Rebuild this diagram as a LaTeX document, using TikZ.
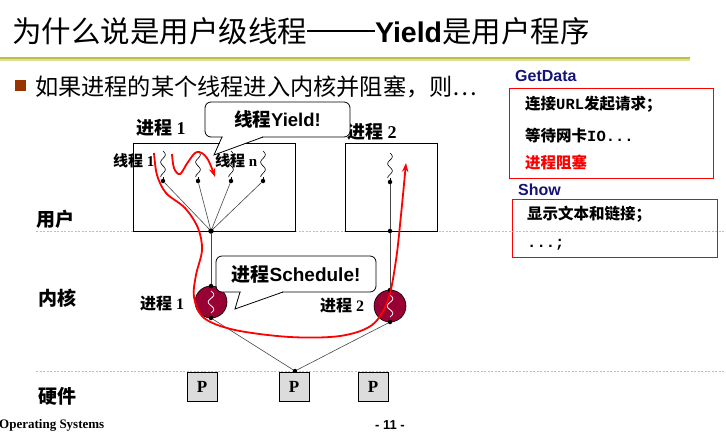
\documentclass[tikz,border=0pt]{standalone}
\usepackage{fontspec}
\setmainfont{Liberation Serif}
\newfontfamily\cjk{Noto Sans CJK SC}
\newfontfamily\arialf{Liberation Sans}
\newfontfamily\monof{Liberation Mono}
\usetikzlibrary{arrows.meta}
\definecolor{titleline}{RGB}{192,192,64}
\definecolor{titlelinelt}{RGB}{222,222,150}
\definecolor{bulletc}{RGB}{153,51,0}
\definecolor{navyc}{RGB}{20,20,120}
\definecolor{kred}{RGB}{153,0,51}
\definecolor{lgray}{RGB}{70,70,70}
\definecolor{bgray}{RGB}{190,190,190}
\definecolor{pgray}{RGB}{220,220,220}
\newcommand\fs[1]{\fontsize{#1}{#1}\selectfont}
\newcommand\squig[3]{\draw[line width=0.6pt] plot[domain=0:1,samples=40,smooth,variable=\t] ({#1+2.3*sin(\t*630)},{#2+(#3-#2)*\t});}
\newcommand\ksquig[2]{\draw[white,line width=0.8pt] plot[domain=0:1,samples=30,smooth,variable=\t] ({#1+2.8*sin(\t*540)},{#2-11+22*\t});}
\tikzset{
  lbl/.style={inner sep=0, anchor=west},
  dot/.style={circle, fill=black, inner sep=0, minimum size=4.5pt},
  gline/.style={draw=lgray, line width=0.6pt},
  procbox/.style={draw=black, line width=0.8pt, fill=none, inner sep=0},
  bound/.style={draw=bgray, line width=0.7pt, dash pattern=on 2pt off 1.5pt},
  kcirc/.style={circle, fill=kred, draw=black, line width=0.6pt, minimum size=32pt, inner sep=0},
  pbox/.style={draw=black, fill=pgray, line width=0.6pt, minimum width=30pt, minimum height=29pt, inner sep=0, font=\fs{17}\bfseries},
  callout/.style={draw=black, fill=white, rounded corners=6pt, line width=0.8pt, inner sep=0},
  redbox/.style={draw=red, line width=1pt, inner sep=0},
  redpath/.style={red, line width=1.8pt, -{Stealth[length=9pt,width=6.5pt]}},
}
\begin{document}
\begin{tikzpicture}[x=1pt,y=-1pt]
\useasboundingbox (0,0) rectangle (726,440);

% title
\node[lbl] (title) at (12,31) {\fs{29.5}{\cjk 为什么说是用户级线程}\rule[0.33em]{2.3em}{2.6pt}{\fs{28.5}\arialf\bfseries Yield}{\cjk 是用户程序}};
\fill[titleline] (0,56.5) rectangle (690,59);
\fill[titlelinelt] (0,59) rectangle (690,60.5);

% bullet
\fill[bulletc] (15,80) rectangle (26,91);
\node[lbl] (bullet) at (35,87) {\fs{23.2}\cjk 如果进程的某个线程进入内核并阻塞，则…};

% right code boxes
\node[lbl] (getdata) at (515,76) {\fs{16}\arialf\bfseries\color{navyc} GetData};
\node[redbox, minimum width=204pt, minimum height=90pt] (box1) at (611,133) {};
\node[lbl] (l1) at (525,104) {\fs{15.5}\bfseries{\cjk 连接}{\monof URL}{\cjk 发起请求；}};
\node[lbl] (l2) at (525,136) {\fs{15.5}\bfseries{\cjk 等待网卡}{\monof IO...}};
\node[lbl] (l3) at (525,163) {\fs{15.5}\bfseries\color{red}{\cjk 进程阻塞}};
\node[lbl] (show) at (518,190) {\fs{16}\arialf\bfseries\color{navyc} Show};
\node[redbox, minimum width=205pt, minimum height=58pt] (box2) at (614.5,228) {};
\node[lbl] (l4) at (527,214) {\fs{15.5}\bfseries{\cjk 显示文本和链接；}};
\node[lbl] (l5) at (527,245) {\fs{15.5}\bfseries{\monof ...;}};

% layer labels and boundaries
\node[lbl] (user) at (36,219) {\fs{19}\cjk\bfseries 用户};
\node[lbl] (kernel) at (38,298) {\fs{19}\cjk\bfseries 内核};
\node[lbl] (hwl) at (38,396) {\fs{19}\cjk\bfseries 硬件};
\draw[bound] (36,231.5) -- (726,231.5);
\draw[bound] (36,371) -- (726,371);

% process boxes
\node[procbox, minimum width=162pt, minimum height=88pt] (p1) at (214,187) {};
\node[procbox, minimum width=92pt, minimum height=88pt] (p2) at (391,187) {};
\node[lbl] (p1l) at (136,128) {\fs{18}\bfseries{\cjk 进程} 1};
\node[lbl] (p2l) at (347,132) {\fs{18}\bfseries{\cjk 进程} 2};
\node[lbl] (th1) at (113,161) {\fs{15}\bfseries{\cjk 线程} 1};
\node[lbl] (thn) at (215,161) {\fs{15}\bfseries{\cjk 线程} n};

% thread dots and hubs
\node[dot] (t1) at (163,181) {};
\node[dot] (t2) at (198,181) {};
\node[dot] (t3) at (231,181) {};
\node[dot] (t4) at (263,181) {};
\node[dot] (t5) at (390,182) {};
\node[dot, minimum size=5.5pt] (hub1) at (211,231) {};
\node[dot] (hub2) at (390,231) {};
\squig{163}{151}{177}
\squig{198}{151}{177}
\squig{231}{151}{177}
\squig{263}{151}{177}
\squig{390}{153}{178}
\draw[line width=0.6pt] (163,177) -- (t1) (198,177) -- (t2) (231,177) -- (t3) (263,177) -- (t4) (390,178) -- (t5);
\foreach \t in {t1,t2,t3,t4} \draw[gline] (\t) -- (hub1);
\draw[gline] (t5) -- (hub2);

% kernel threads
\node[kcirc] (k1) at (211,302) {};
\node[kcirc] (k2) at (390,306) {};
\ksquig{211}{302}
\ksquig{390}{306}
\node[dot] (k1t) at (211,286) {};
\node[dot] (k1b) at (211,318) {};
\node[dot] (k2t) at (390,290) {};
\node[dot] (k2b) at (390,322) {};
\node[lbl] (k1l) at (140,304) {\fs{16}\bfseries{\cjk 进程} 1};
\node[lbl] (k2l) at (320,306) {\fs{16}\bfseries{\cjk 进程} 2};
\node[dot] (hw) at (295,371) {};
\draw[gline] (hub1) -- (k1t);
\draw[gline] (hub2) -- (k2t);
\draw[gline] (k1b) -- (hw);
\draw[gline] (k2b) -- (hw);

% processors
\node[pbox] (cpu1) at (202,386.5) {P};
\node[pbox] (cpu2) at (294,386.5) {P};
\node[pbox] (cpu3) at (373,386.5) {P};

% callouts
\node[callout, minimum width=145pt, minimum height=35pt] (yield) at (277.5,119.5) {\fs{18.5}{\cjk\bfseries 线程}{\arialf\bfseries Yield!}};
\coordinate (ya) at (222,137);
\coordinate (yb) at (263,137);
\coordinate (ytip) at (214,155);
\fill[white] (223,135) -- (223,137) -- (ytip) -- (262,137) -- (262,135) -- cycle;
\draw[line width=0.8pt] (ya) -- (ytip) -- (yb);

\node[callout, minimum width=160pt, minimum height=36pt] (sched) at (296,274) {\fs{19}{\cjk\bfseries 进程}{\arialf\bfseries Schedule!}};
\coordinate (sa) at (240,292);
\coordinate (sb) at (283,292);
\coordinate (stip) at (235,309);
\fill[white] (241,290) -- (241,292) -- (stip) -- (282,292) -- (282,290) -- cycle;
\draw[line width=0.8pt] (sa) -- (stip) -- (sb);

% red paths
\draw[redpath] plot[smooth, tension=0.6] coordinates {(172,154) (174,168) (180,174) (188,162) (197,152) (207,158) (215,177)};
\draw[redpath] plot[smooth, tension=0.55] coordinates {(154,153) (157,175) (166,193) (185,208) (198,228) (202,250) (196,275) (194,297) (204,318) (235,330) (290,337) (340,336) (372,325) (388,300) (396,260) (401,215) (406,163)};

% footer
\node[lbl] (foot) at (-1,425) {\fs{13}\bfseries Operating Systems};
\node[lbl] (page) at (375,425) {\fs{13}\arialf\bfseries - 11 -};
\end{tikzpicture}
\end{document}
